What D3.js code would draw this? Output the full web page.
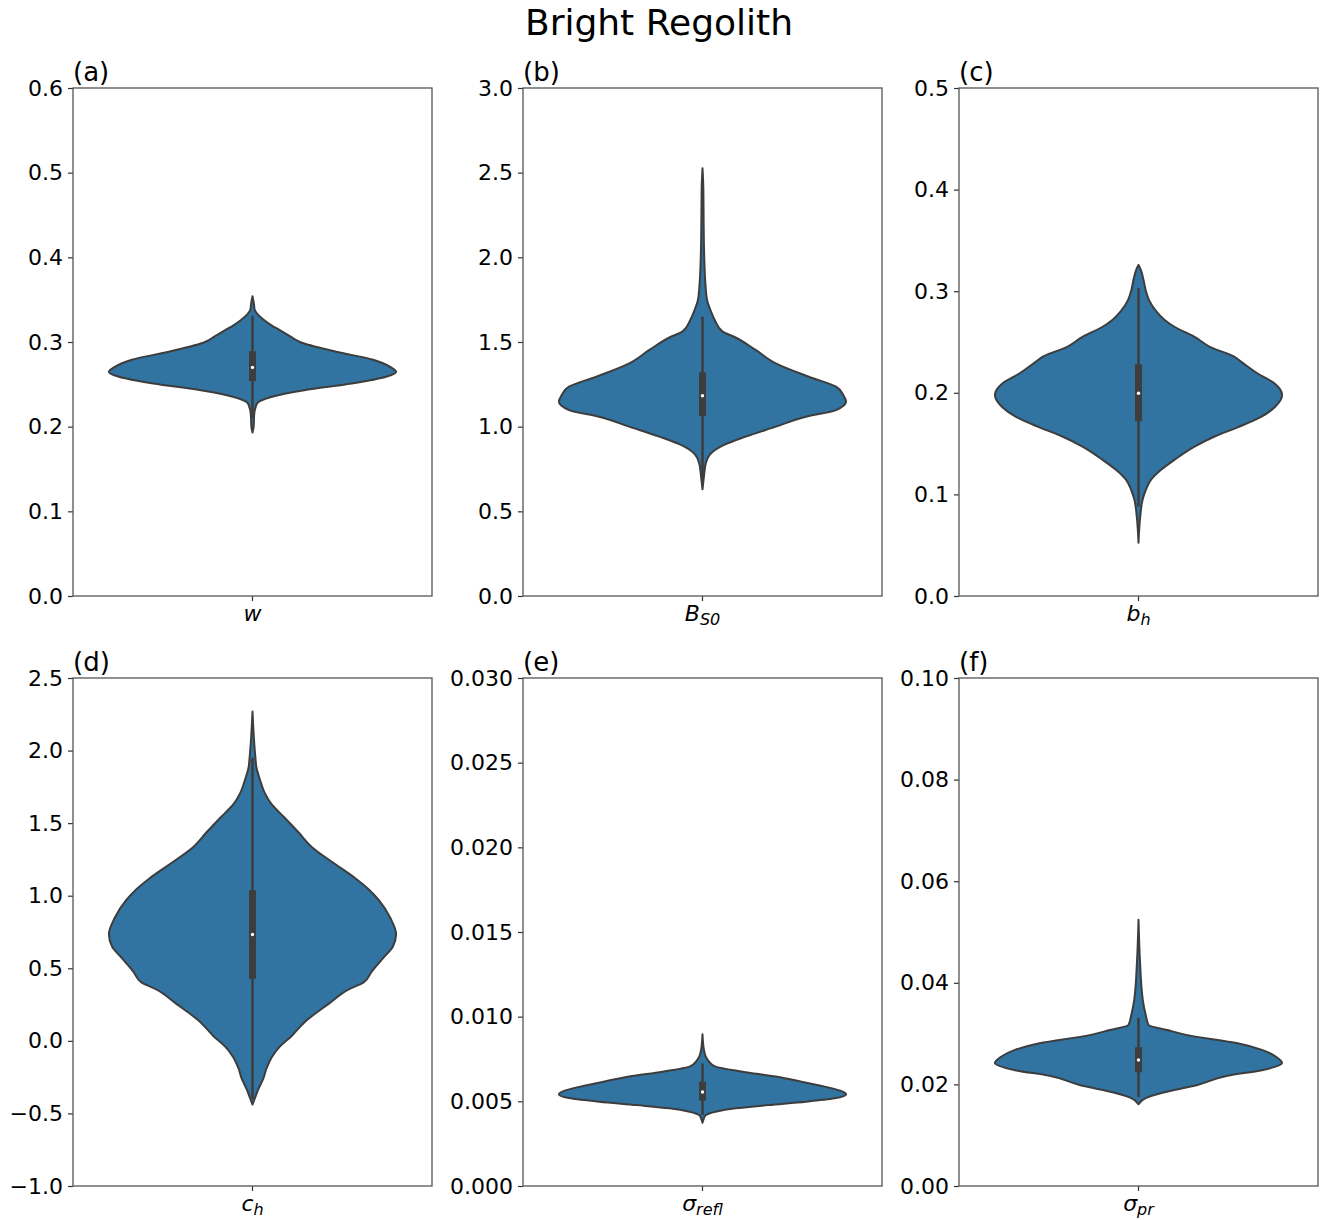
<!DOCTYPE html>
<html>
<head>
<meta charset="utf-8">
<script src="https://cdn.jsdelivr.net/npm/d3@7"></script>
<style>
  body { margin: 0; background: #fff; }
  text { font-family: "DejaVu Sans", sans-serif; fill: #000; }
</style>
</head>
<body>
<div id="chart"></div>
<script>
// Panel data
var panelLetters = ["(a)", "(b)", "(c)", "(d)", "(e)", "(f)"];
var yDomains = [[0, 0.6], [0, 3.0], [0, 0.5], [-1.0, 2.5], [0, 0.03], [0, 0.1]];
var yTickValues = [
    [0, 0.1, 0.2, 0.3, 0.4, 0.5, 0.6],
    [0, 0.5, 1.0, 1.5, 2.0, 2.5, 3.0],
    [0, 0.1, 0.2, 0.3, 0.4, 0.5],
    [-1.0, -0.5, 0, 0.5, 1.0, 1.5, 2.0, 2.5],
    [0, 0.005, 0.010, 0.015, 0.020, 0.025, 0.030],
    [0, 0.02, 0.04, 0.06, 0.08, 0.10]
];
var yTickFormats = [".1f", ".1f", ".1f", ".1f", ".3f", ".2f"];

// violin outlines: [value, relative half width]
var wProfile = [[0.193,0],[0.200,0.008],[0.215,0.012],[0.222,0.02],[0.228,0.035],[0.235,0.13],[0.243,0.36],[0.251,0.69],[0.259,0.93],[0.265,1.0],[0.270,0.965],[0.279,0.84],[0.289,0.57],[0.300,0.33],[0.307,0.26],[0.314,0.19],[0.320,0.13],[0.326,0.08],[0.332,0.04],[0.338,0.015],[0.345,0.01],[0.354,0]];
var bs0Profile = [[0.630,0],[0.705,0.01],[0.784,0.023],[0.843,0.06],[0.892,0.15],[0.941,0.30],[1.000,0.51],[1.059,0.72],[1.098,0.93],[1.148,1.0],[1.187,0.98],[1.236,0.93],[1.295,0.74],[1.374,0.51],[1.453,0.37],[1.531,0.22],[1.561,0.14],[1.630,0.085],[1.689,0.055],[1.748,0.032],[1.847,0.02],[2.0,0.012],[2.2,0.008],[2.4,0.006],[2.526,0]];
var bhProfile = [[0.0525,0],[0.078,0.012],[0.0945,0.028],[0.104,0.05],[0.114,0.085],[0.124,0.155],[0.134,0.25],[0.147,0.39],[0.157,0.53],[0.166,0.69],[0.176,0.85],[0.186,0.95],[0.198,1.0],[0.209,0.95],[0.219,0.83],[0.229,0.73],[0.236,0.66],[0.245,0.50],[0.255,0.39],[0.265,0.25],[0.272,0.18],[0.281,0.12],[0.291,0.074],[0.301,0.05],[0.311,0.035],[0.321,0.016],[0.3258,0]];
var chProfile = [[-0.439,0],[-0.397,0.016],[-0.335,0.04],[-0.261,0.075],[-0.188,0.098],[-0.114,0.133],[-0.040,0.19],[0.034,0.273],[0.132,0.366],[0.255,0.53],[0.354,0.67],[0.403,0.774],[0.477,0.83],[0.575,0.914],[0.649,0.977],[0.735,1.0],[0.846,0.96],[0.969,0.88],[1.043,0.81],[1.117,0.72],[1.215,0.58],[1.338,0.41],[1.437,0.32],[1.535,0.226],[1.634,0.13],[1.707,0.086],[1.806,0.05],[1.880,0.028],[1.954,0.02],[2.052,0.012],[2.269,0]];
var srProfile = [[0.00374,0],[0.0040,0.01],[0.00419,0.023],[0.00439,0.09],[0.00459,0.23],[0.00478,0.46],[0.00498,0.72],[0.00518,0.92],[0.00541,1.0],[0.00563,0.96],[0.00587,0.85],[0.00616,0.69],[0.00646,0.51],[0.00675,0.28],[0.00705,0.09],[0.00734,0.046],[0.00764,0.023],[0.00803,0.01],[0.00896,0]];
var sprProfile = [[0.0161,0],[0.0173,0.05],[0.0183,0.16],[0.0199,0.41],[0.0217,0.62],[0.0228,0.86],[0.0242,1.0],[0.0254,0.96],[0.0268,0.86],[0.0281,0.69],[0.0297,0.34],[0.0307,0.2],[0.0317,0.07],[0.0337,0.05],[0.0366,0.03],[0.0445,0.01],[0.0524,0]];
var profiles = [wProfile, bs0Profile, bhProfile, chProfile, srProfile, sprProfile];

// inner box: [whisker low, q1, median, q3, whisker high]
var boxStats = [
    [0.210, 0.254, 0.270, 0.289, 0.331],
    [0.680, 1.063, 1.183, 1.321, 1.650],
    [0.088, 0.172, 0.1995, 0.228, 0.303],
    [-0.400, 0.428, 0.733, 1.038, 1.950],
    [0.00419, 0.00504, 0.00555, 0.00616, 0.00724],
    [0.0175, 0.0224, 0.0248, 0.0273, 0.0331]
];

// x labels: [main symbol, subscript]
var xLabels = [["w", ""], ["B", "S0"], ["b", "h"], ["c", "h"], ["\u03c3", "refl"], ["\u03c3", "pr"]];

var svgWidth = 1322;
var svgHeight = 1220;
var axLeft = [73, 523, 959];
var axTop = [88, 678];
var axW = 359;
var axH = 508;

var violinFill = "#3274a1";
var lineGray = "#3d3d3d";
var spineGray = "#555555";

var svg = d3.select("#chart")
    .append("svg")
    .attr("width", svgWidth)
    .attr("height", svgHeight);

svg.append("text")
    .attr("x", 659)
    .attr("y", 35)
    .attr("text-anchor", "middle")
    .style("font-size", "36px")
    .text("Bright Regolith");

profiles.forEach(function(profile, i) {
    var col = i % 3;
    var row = Math.floor(i / 3);
    var g = svg.append("g")
        .attr("transform", `translate(${axLeft[col]}, ${axTop[row]})`);

    var yScale = d3.scaleLinear().domain(yDomains[i]).range([axH, 0]);
    var xScale = d3.scaleBand().domain([xLabels[i].join("_")]).range([0, axW]);
    var cx = xScale(xLabels[i].join("_")) + xScale.bandwidth() / 2;
    var wScale = d3.scaleLinear().domain([0, 1]).range([0, xScale.bandwidth() * 0.4]);

    // violin body
    var area = d3.area()
        .y(d => yScale(d[0]))
        .x0(d => cx - wScale(d[1]))
        .x1(d => cx + wScale(d[1]))
        .curve(d3.curveMonotoneY);

    g.append("path")
        .datum(profile)
        .attr("d", area)
        .attr("fill", violinFill)
        .attr("stroke", lineGray)
        .attr("stroke-width", 2)
        .attr("stroke-linejoin", "round");

    // inner box
    var b = boxStats[i];
    g.append("line")
        .attr("x1", cx).attr("x2", cx)
        .attr("y1", yScale(b[0])).attr("y2", yScale(b[4]))
        .attr("stroke", lineGray)
        .attr("stroke-width", 2.5);
    g.append("rect")
        .attr("x", cx - 3.5)
        .attr("width", 7)
        .attr("y", yScale(b[3]))
        .attr("height", yScale(b[1]) - yScale(b[3]))
        .attr("fill", lineGray);
    g.append("circle")
        .attr("cx", cx)
        .attr("cy", yScale(b[2]))
        .attr("r", 1.7)
        .attr("fill", "#fff");

    // axes
    var leftAxis = d3.axisLeft(yScale)
        .tickValues(yTickValues[i])
        .tickFormat(d3.format(yTickFormats[i]))
        .tickSize(5)
        .tickPadding(5);
    var yAxisG = g.append("g").call(leftAxis);
    yAxisG.select(".domain").remove();
    yAxisG.selectAll("line").attr("stroke", "#333").attr("stroke-width", 1.2);
    yAxisG.selectAll("text")
        .style("font-size", "22px")
        .style("font-family", "DejaVu Sans, sans-serif");

    var bottomAxis = d3.axisBottom(xScale).tickSize(5).tickFormat("");
    var xAxisG = g.append("g")
        .attr("transform", `translate(0, ${axH})`)
        .call(bottomAxis);
    xAxisG.select(".domain").remove();
    xAxisG.selectAll("line").attr("stroke", "#333").attr("stroke-width", 1.2);

    // frame
    g.append("rect")
        .attr("width", axW)
        .attr("height", axH)
        .attr("fill", "none")
        .attr("stroke", spineGray)
        .attr("stroke-width", 1.3);

    // x label with subscript
    var lab = g.append("text")
        .attr("x", cx)
        .attr("y", axH + 25)
        .attr("text-anchor", "middle")
        .style("font-size", "22px")
        .style("font-style", "italic");
    lab.append("tspan").text(xLabels[i][0]);
    if (xLabels[i][1]) {
        lab.append("tspan")
            .attr("dy", 4)
            .style("font-size", "16px")
            .text(xLabels[i][1]);
    }

    // panel letter
    g.append("text")
        .attr("x", 0)
        .attr("y", -7)
        .style("font-size", "26px")
        .text(panelLetters[i]);
});
</script>
</body>
</html>
